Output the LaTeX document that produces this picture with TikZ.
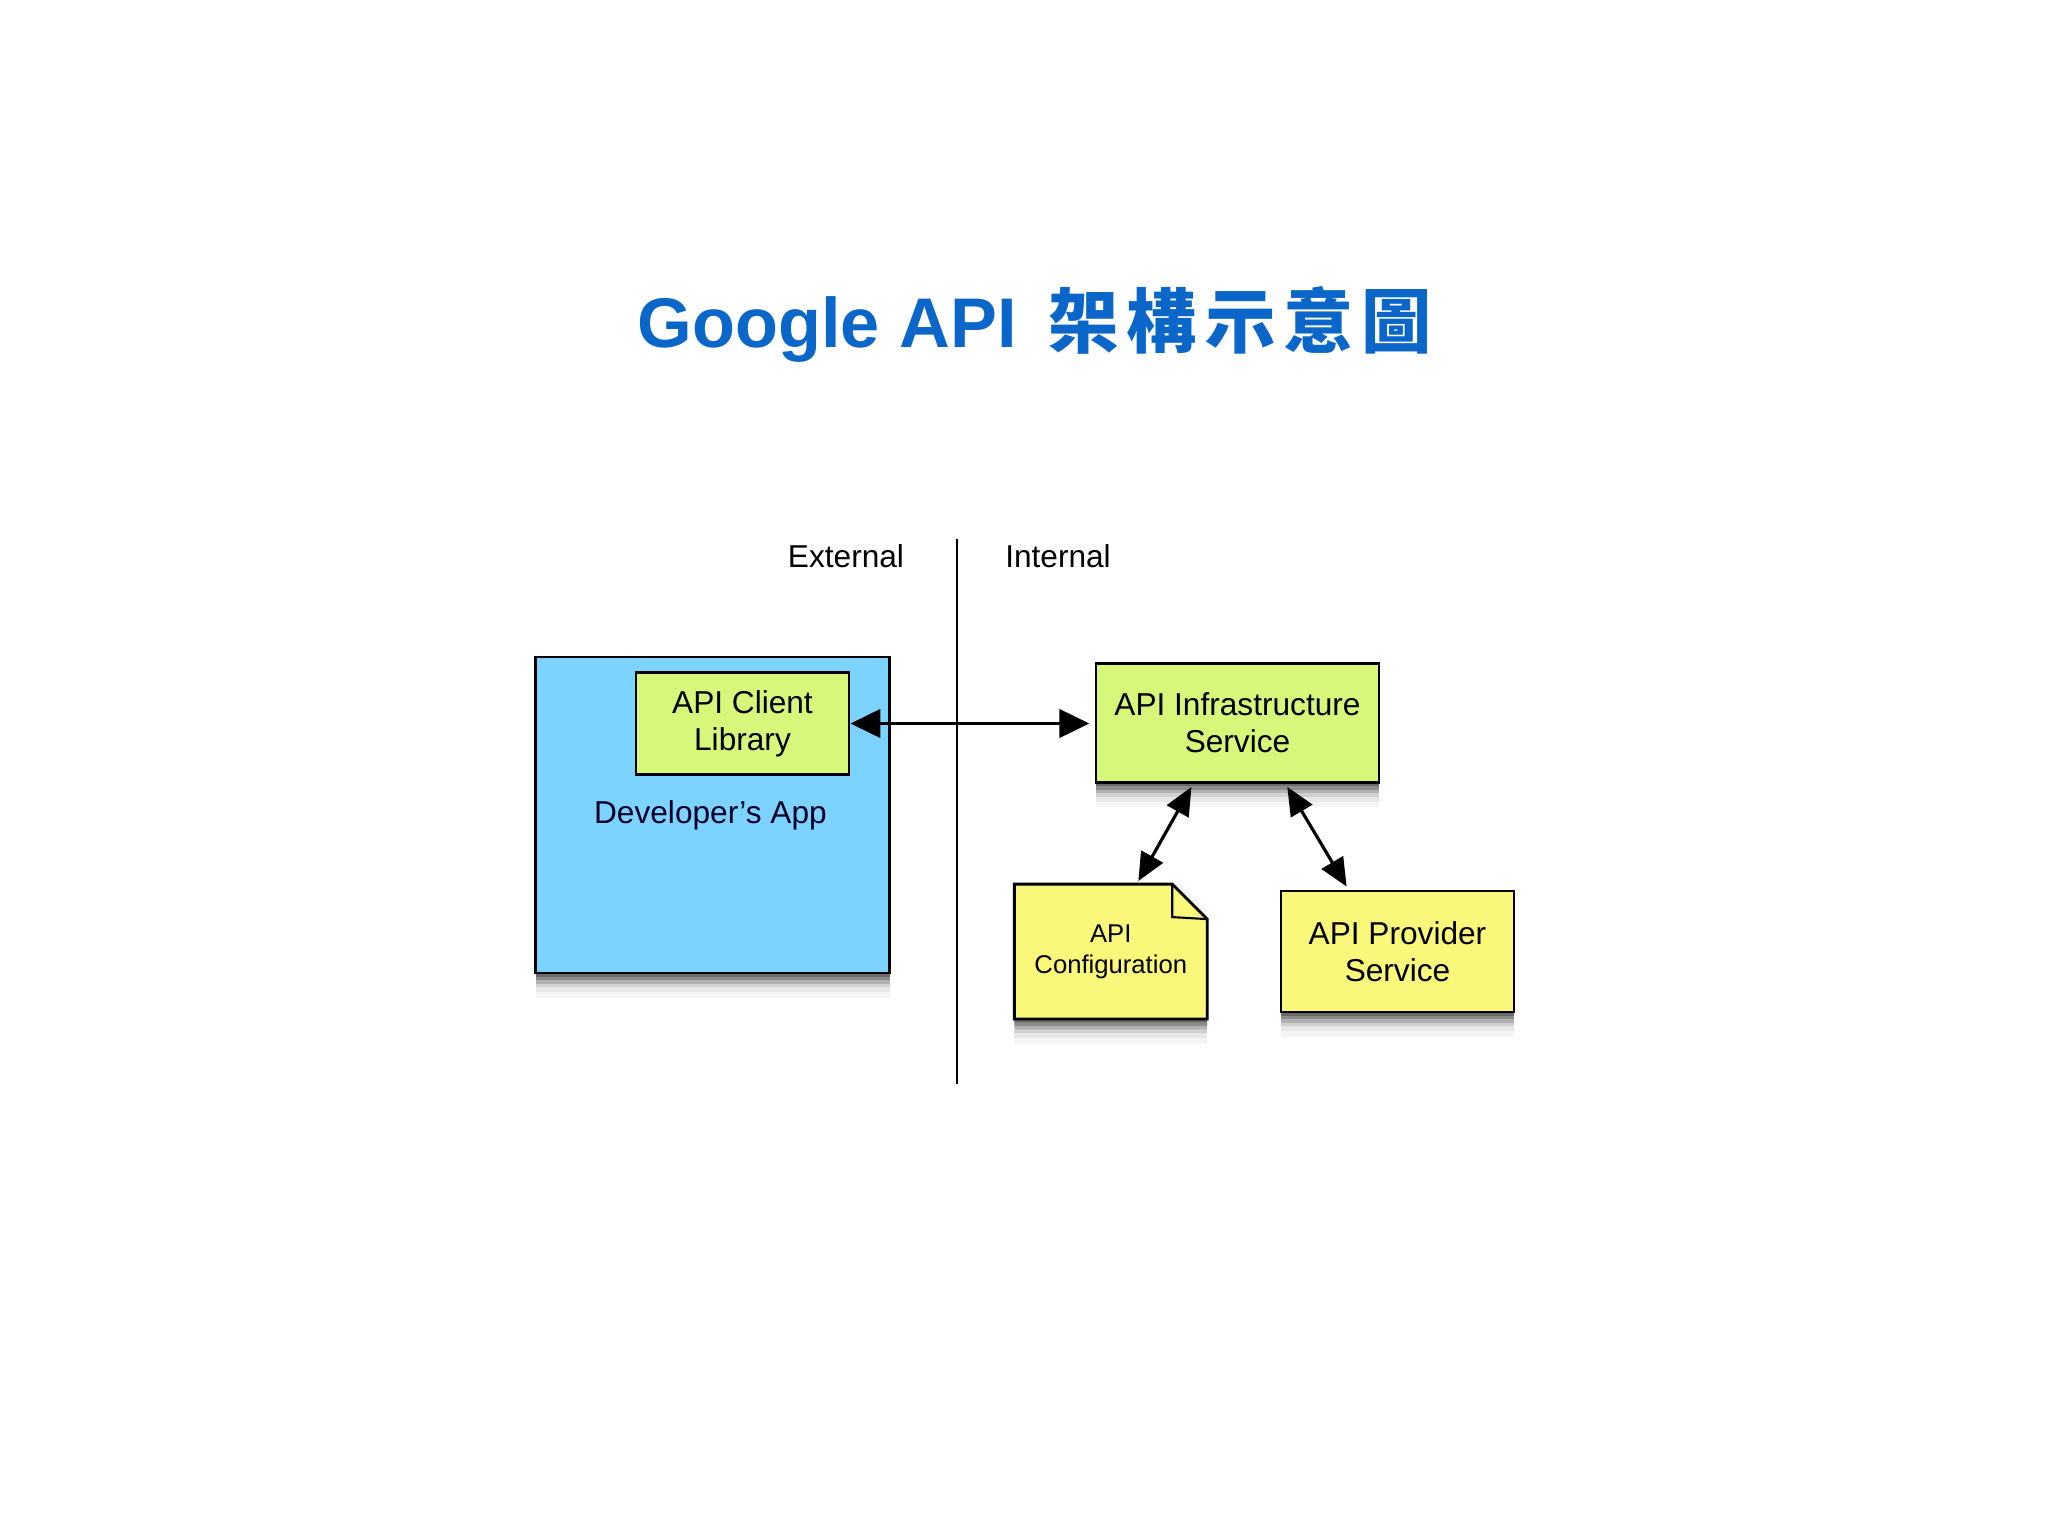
\documentclass[tikz,border=0pt]{standalone}
\usepackage{fontspec}
\setmainfont{Liberation Sans}
\newfontfamily\cjkfont{Noto Sans CJK TC}
\usetikzlibrary{arrows.meta,shadows,backgrounds,calc}

\definecolor{appblue}{HTML}{7DD3FF}
\definecolor{libgreen}{HTML}{D6F77A}
\definecolor{noteyellow}{HTML}{FAF87A}
\definecolor{titleblue}{HTML}{0A66C8}

\tikzset{
  boxshadow/.style={
    drop shadow={shadow xshift=0pt, shadow yshift=-1pt, opacity=.25, fill=black},
    drop shadow={shadow xshift=0pt, shadow yshift=-2pt, opacity=.2, fill=black},
    drop shadow={shadow xshift=0pt, shadow yshift=-3pt, opacity=.15, fill=black},
    drop shadow={shadow xshift=0pt, shadow yshift=-4pt, opacity=.1, fill=black},
    drop shadow={shadow xshift=0pt, shadow yshift=-5.5pt, opacity=.06, fill=black},
    drop shadow={shadow xshift=0pt, shadow yshift=-7pt, opacity=.04, fill=black}},
  box/.style={draw=black, line width=0.8pt, inner sep=0pt, align=center,
    font=\fontsize{9}{10.5}\selectfont},
  link/.style={line width=1.1pt,
    {Triangle[length=8.5pt,width=8pt]}-{Triangle[length=8.5pt,width=8pt]}},
  sidelink/.style={line width=0.9pt,
    {Triangle[length=8pt,width=7pt]}-{Triangle[length=8pt,width=7pt]},
    shorten <=1pt, shorten >=1pt},
  notepath/.style={insert path={(config.south west) -- (config.north west)
      -- ([xshift=-0.35cm]config.north east) -- ([yshift=-0.35cm]config.north east)
      -- (config.south east) -- cycle}},
}

\begin{document}
\begin{tikzpicture}
  \useasboundingbox (0,0) rectangle (20.48,-15.35);

  % Title
  \node[font=\bfseries\fontsize{20}{24}\selectfont, text=titleblue, anchor=base] (title) at (10.35,-3.47)
    {Google API\hspace{0.45em}{\cjkfont 架\hspace{2.3pt}構\hspace{2.3pt}示\hspace{2.3pt}意\hspace{2.3pt}圖}};

  % External / Internal split
  \coordinate (divtop) at (9.57,-5.39);
  \coordinate (divbot) at (9.57,-10.84);
  \draw[line width=0.6pt] (divtop) -- (divbot);
  \node[font=\fontsize{9}{10.5}\selectfont] (external) at (8.46,-5.56) {External};
  \node[font=\fontsize{9}{10.5}\selectfont] (internal) at (10.58,-5.56) {Internal};

  % Boxes
  \node[box, boxshadow, fill=appblue, minimum width=3.54cm, minimum height=3.16cm] (devapp) at (7.125,-8.15) {};
  \node[box, draw=none, text=black!85!blue] (devlabel) at (7.105,-8.15) {Developer's App};
  \node[box, fill=libgreen, minimum width=2.13cm, minimum height=1.02cm] (client) at (7.425,-7.235) {API Client\\Library};
  \node[box, boxshadow, fill=libgreen, minimum width=2.83cm, minimum height=1.19cm] (infra) at (12.375,-7.23) {API Infrastructure\\Service};
  \node[box, boxshadow, fill=noteyellow, minimum width=2.33cm, minimum height=1.21cm] (provider) at (13.975,-9.515) {API Provider\\Service};
  \node[box, draw=none, minimum width=1.9cm, minimum height=1.32cm,
    font=\fontsize{7.3}{8.9}\selectfont] (config) at (11.108,-9.515) {API\\Configuration};

  % Note shape behind the config text
  \begin{scope}[on background layer]
    \foreach \dy/\op in {1/.25, 2/.2, 3/.15, 4/.1, 5.5/.06, 7/.04}
      \fill[black, opacity=\op, transform canvas={yshift=-\dy pt}] [notepath];
    \draw[line width=0.8pt, fill=noteyellow] [notepath];
    \draw[line width=0.6pt] ([xshift=-0.35cm]config.north east) -- ([xshift=-0.35cm, yshift=-0.33cm]config.north east)
      -- ([yshift=-0.35cm]config.north east);
  \end{scope}

  % Connectors
  \draw[link, shorten >=1.5pt] (client.east) -- (client.east -| infra.west);
  \draw[sidelink] ($(infra.south west)!0.345!(infra.south east)$) -- ($(config.north west)!0.634!(config.north east)$);
  \draw[sidelink] ($(infra.south west)!0.668!(infra.south east)$) -- ($(provider.north west)!0.292!(provider.north east)$);
\end{tikzpicture}
\end{document}
